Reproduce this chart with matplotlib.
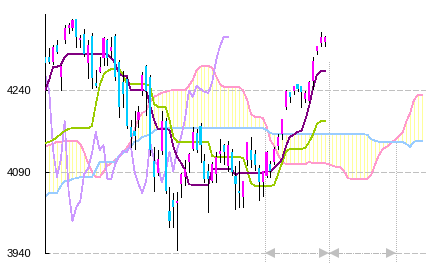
import numpy as np
import matplotlib
matplotlib.use("Agg")
import matplotlib.pyplot as plt

plt.rcParams['lines.antialiased'] = False
plt.rcParams['patch.antialiased'] = False
plt.rcParams['lines.scale_dashes'] = False

# daily candles (oldest -> newest)
opens = [4301, 4301, 4292, 4323, 4264, 4332, 4354, 4354, 4371, 4332,
         4343, 4290, 4340, 4253, 4274, 4299, 4332, 4312, 4340, 4292,
         4255, 4261, 4172, 4165, 4185, 4239, 4285, 4264, 4110, 4088,
         4128, 4183, 4018, 4038, 4032, 4067, 4080, 4108, 4132, 4161,
         4174, 4110, 4091, 4073, 4086, 4123, 4139, 4101, 4126, 4082,
         4055, 4044, 4112, 4130, 4123, 4097, 4071, 4082, 4104, 4108,
         4137, 4159, 4209, 4237, 4239, 4251, 4248, 4224, 4220, 4257,
         4312, 4327, 4329]
highs = [4305, 4318, 4323, 4332, 4286, 4360, 4364, 4371, 4371, 4342,
         4353, 4332, 4345, 4277, 4301, 4338, 4334, 4338, 4343, 4296,
         4275, 4264, 4185, 4202, 4211, 4274, 4286, 4268, 4136, 4130,
         4202, 4189, 4062, 4051, 4053, 4088, 4112, 4124, 4172, 4169,
         4180, 4123, 4104, 4108, 4126, 4150, 4141, 4147, 4132, 4101,
         4110, 4073, 4145, 4154, 4130, 4102, 4091, 4128, 4110, 4136,
         4159, 4187, 4240, 4237, 4248, 4251, 4248, 4239, 4257, 4301,
         4321, 4347, 4340]
lows = [4285, 4290, 4288, 4308, 4240, 4327, 4345, 4351, 4320, 4320,
        4303, 4262, 4244, 4246, 4274, 4286, 4286, 4301, 4259, 4191,
        4209, 4170, 4136, 4132, 4172, 4231, 4194, 4121, 4055, 4084,
        4123, 4051, 3988, 3988, 3946, 4044, 4066, 4090, 4130, 4126,
        4108, 4071, 4016, 4071, 4071, 4108, 4104, 4091, 4084, 4021,
        4025, 4025, 4102, 4099, 4093, 4038, 4045, 4080, 4080, 4104,
        4132, 4150, 4205, 4218, 4233, 4239, 4209, 4218, 4218, 4242,
        4307, 4321, 4321]
closes = [4290, 4292, 4320, 4310, 4285, 4354, 4360, 4369, 4338, 4336,
          4307, 4323, 4262, 4248, 4283, 4336, 4299, 4320, 4264, 4209,
          4233, 4174, 4154, 4156, 4200, 4268, 4239, 4130, 4080, 4113,
          4183, 4055, 3999, 4025, 4036, 4086, 4095, 4123, 4163, 4130,
          4139, 4077, 4077, 4104, 4117, 4128, 4126, 4139, 4090, 4067,
          4051, 4073, 4145, 4112, 4102, 4071, 4091, 4126, 4091, 4132,
          4154, 4187, 4239, 4228, 4248, 4242, 4237, 4235, 4255, 4294,
          4321, 4338, 4338]

# ichimoku lines
tenkan = [4240, 4259, 4283, 4283, 4286, 4301, 4307, 4307, 4307, 4307,
          4307, 4307, 4307, 4307, 4307, 4307, 4305, 4299, 4290, 4270,
          4266, 4266, 4240, 4240, 4240, 4240, 4239, 4213, 4185, 4169,
          4169, 4169, 4167, 4136, 4117, 4106, 4093, 4067, 4066, 4066,
          4066, 4066, 4066, 4095, 4095, 4095, 4095, 4095, 4095, 4084,
          4088, 4088, 4088, 4088, 4088, 4088, 4088, 4090, 4091, 4097,
          4104, 4113, 4137, 4154, 4158, 4163, 4165, 4185, 4211, 4244,
          4268, 4275, 4275]
kijun = [4143, 4145, 4148, 4154, 4159, 4165, 4169, 4170, 4170, 4170,
         4170, 4170, 4174, 4213, 4248, 4268, 4275, 4279, 4279, 4279,
         4268, 4253, 4251, 4251, 4251, 4251, 4251, 4248, 4215, 4209,
         4209, 4209, 4185, 4154, 4145, 4145, 4145, 4145, 4145, 4145,
         4145, 4145, 4145, 4119, 4117, 4117, 4117, 4117, 4117, 4117,
         4117, 4115, 4093, 4069, 4064, 4064, 4064, 4064, 4064, 4066,
         4086, 4106, 4126, 4132, 4132, 4132, 4132, 4134, 4145, 4159,
         4178, 4183, 4183]
span_a = [4136, 4139, 4141, 4145, 4145, 4147, 4147, 4147, 4147, 4141,
          4126, 4106, 4091, 4080, 4080, 4090, 4101, 4106, 4112, 4117,
          4124, 4134, 4145, 4167, 4189, 4198, 4202, 4218, 4228, 4231,
          4235, 4237, 4239, 4240, 4240, 4240, 4240, 4248, 4259, 4277,
          4283, 4285, 4285, 4281, 4266, 4251, 4246, 4246, 4246, 4246,
          4246, 4239, 4222, 4196, 4191, 4191, 4189, 4174, 4148, 4137,
          4121, 4108, 4104, 4104, 4104, 4104, 4104, 4104, 4108, 4106,
          4106, 4106, 4106, 4104, 4101, 4099, 4099, 4091, 4078, 4077,
          4077, 4077, 4077, 4077, 4084, 4104, 4121, 4132, 4136, 4143,
          4148, 4154, 4161, 4182, 4198, 4222, 4231, 4231]
span_b = [4044, 4051, 4051, 4051, 4064, 4073, 4073, 4077, 4078, 4080,
          4080, 4080, 4080, 4093, 4108, 4108, 4108, 4108, 4108, 4119,
          4124, 4130, 4137, 4145, 4147, 4154, 4156, 4159, 4165, 4169,
          4170, 4170, 4170, 4170, 4170, 4170, 4170, 4170, 4170, 4170,
          4170, 4170, 4170, 4170, 4170, 4170, 4170, 4170, 4170, 4170,
          4170, 4170, 4170, 4170, 4170, 4170, 4170, 4167, 4161, 4159,
          4159, 4159, 4159, 4159, 4159, 4159, 4159, 4159, 4159, 4159,
          4159, 4159, 4159, 4159, 4159, 4159, 4159, 4159, 4159, 4159,
          4159, 4159, 4159, 4158, 4150, 4147, 4145, 4145, 4145, 4145,
          4145, 4145, 4145, 4141, 4136, 4145, 4147, 4147]
lag = 25

y_ticks = [3940, 4090, 4240]
y_labels = ['3940', '4090', '4240']
# time-cycle markers (bar positions) and where their dotted lines start
cycle_x = [56.7, 73.1, 90.3]
cycle_top = [4172, 4292, 4143]

LW = 0.5

fig = plt.figure(figsize=(4.33, 2.67), dpi=100)
ax = fig.add_axes([45 / 433, 13.7 / 267, 381 / 433, 239.3 / 267])
ax.set_xlim(-0.08, 98.1)
ax.set_ylim(3940, 4380)

x = np.arange(len(closes))
xf = np.arange(len(span_a))
o = np.array(opens)
c = np.array(closes)

# cloud
ax.vlines(xf, span_a, span_b, color='#ffff99', lw=LW, zorder=1)

# grid
grid = dict(color='#c0c0c0', lw=LW, dashes=(3.6, 1.8))
for yv in y_ticks[1:]:
    ax.axhline(yv, zorder=1.5, **grid)
ax.plot([-0.08, cycle_x[0]], [3940, 3940], zorder=1.5, clip_on=False, **grid)
ax.plot([cycle_x[2], 98.1], [3940, 3940], zorder=1.5, clip_on=False, **grid)
ax.plot([cycle_x[0], cycle_x[2]], [3940, 3940], color='#b8b8b8', lw=LW,
        dashes=(3.6, 1.4, 0.72, 1.4), zorder=1.5, clip_on=False)
for cx, top in zip(cycle_x, cycle_top):
    ax.plot([cx, cx], [top, 3923], color='#b8b8b8', lw=LW, dashes=(0.72, 1.44),
            zorder=1.5, clip_on=False)
# arrow heads on the cycle spans
ax.plot([cycle_x[0] + 1.25, cycle_x[1] + 1.25], [3940, 3940], ls='none', marker='<',
        ms=7, mew=0, color='#c0c0c0', clip_on=False, zorder=2)
ax.plot([cycle_x[1] - 1.25, cycle_x[2] - 1.25], [3940, 3940], ls='none', marker='>',
        ms=7, mew=0, color='#c0c0c0', clip_on=False, zorder=2)

# leading spans, lagging span, conversion / base lines
ax.plot(xf, span_a, color='#ff99cc', lw=LW, zorder=2)
ax.plot(xf, span_b, color='#99ccff', lw=LW, zorder=2)
ax.plot(x[:-lag], closes[lag:], color='#cc99ff', lw=LW, zorder=2.5)
ax.plot(x, kijun, color='#99cc00', lw=LW, zorder=3)
ax.plot(x, tenkan, color='#800080', lw=LW, zorder=3)

# candles
up = c >= o
ax.vlines(x, lows, highs, color='black', lw=LW, zorder=4)
ax.bar(x, np.maximum(np.abs(c - o), 2.5), bottom=np.minimum(o, c), width=0.55,
       color=np.where(up, '#ff00ff', '#00ccff'), zorder=5)

for s in ['top', 'right', 'bottom']:
    ax.spines[s].set_visible(False)
ax.spines['left'].set_linewidth(0.72)
ax.set_xticks([])
ax.set_yticks(y_ticks)
ax.set_yticklabels(y_labels, family='Liberation Sans', fontsize=8)
ax.tick_params(axis='y', direction='in', length=3, width=0.72, pad=10)

fig.savefig('out.png', dpi=100)
